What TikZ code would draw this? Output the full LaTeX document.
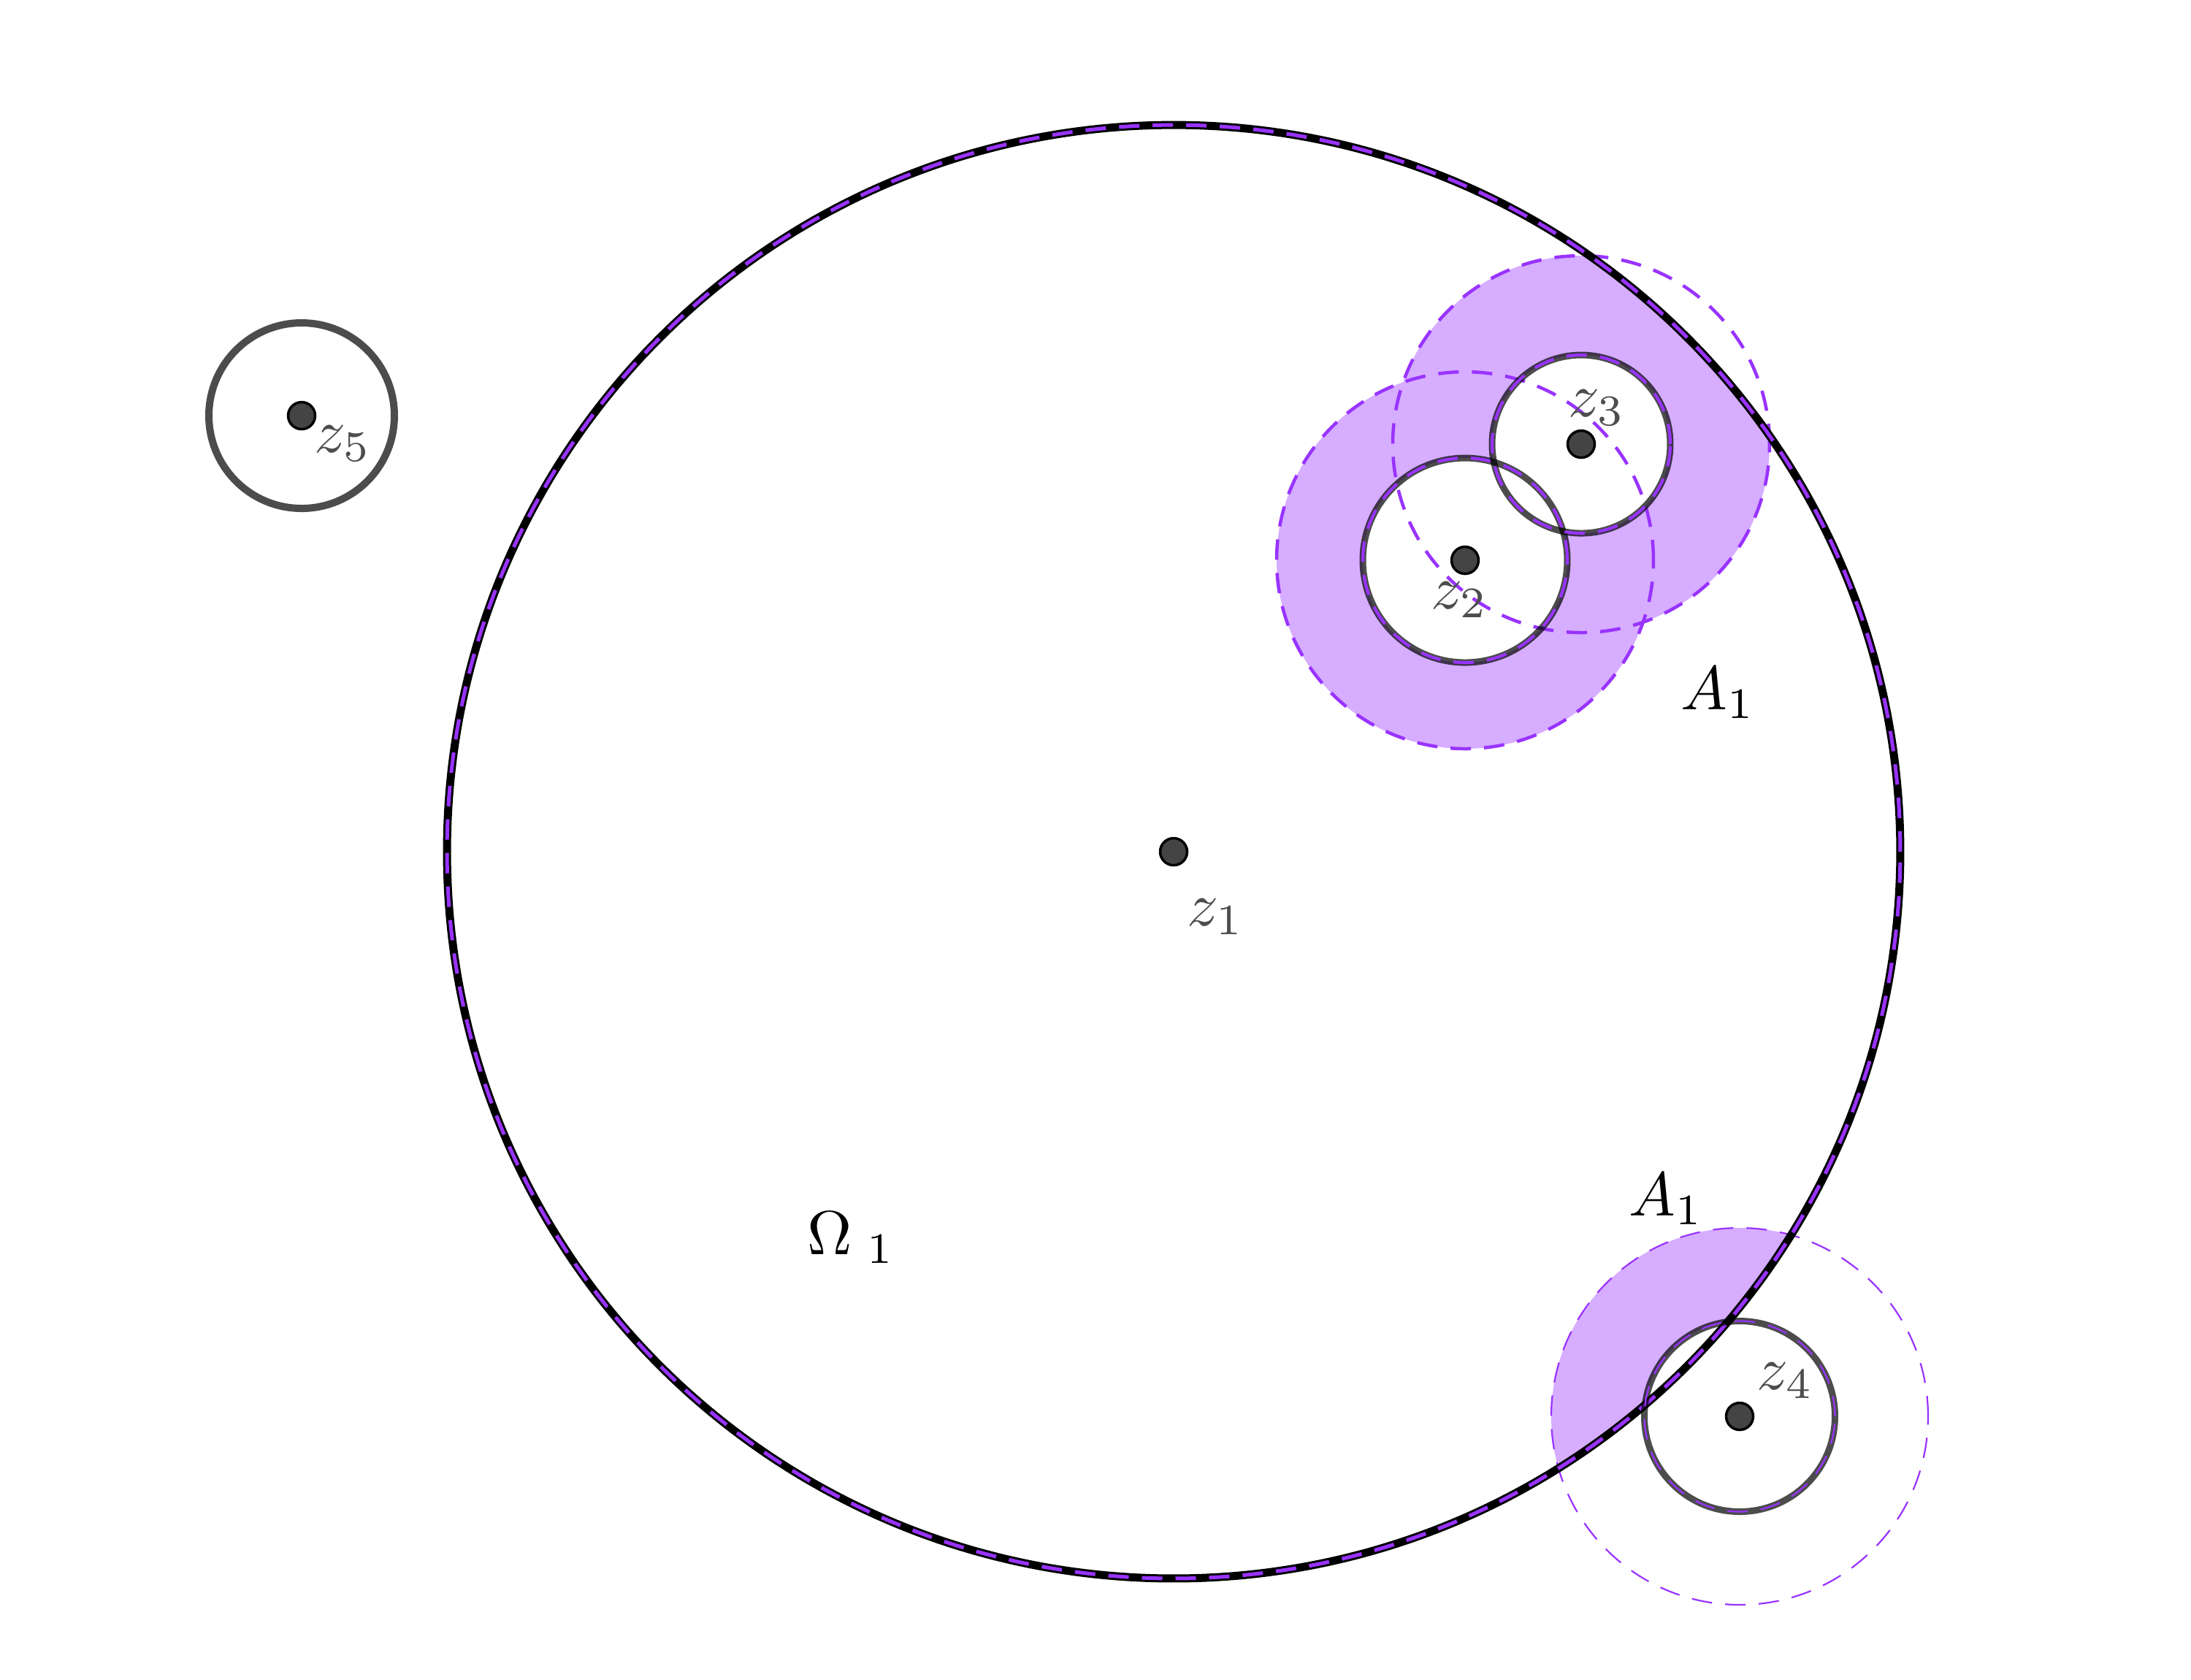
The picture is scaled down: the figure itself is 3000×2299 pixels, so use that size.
\documentclass[tikz,border=0pt]{standalone}
\definecolor{vio}{HTML}{9933FF}
\definecolor{viofill}{RGB}{214,173,255}
\definecolor{dotgrey}{HTML}{444444}
\definecolor{labgrey}{HTML}{4D4D4D}
\tikzset{
  zdot/.style={circle, fill=dotgrey, draw=black, line width=0.35pt, minimum size=3.7pt, inner sep=0pt},
  zlab/.style={anchor=base west, inner sep=0pt, scale=0.85, transform shape, text=labgrey},
  blab/.style={anchor=base west, inner sep=0pt, scale=0.85, transform shape, text=black},
  ring/.style={draw=black, draw opacity=0.7, line width=0.9pt},
  vdash/.style={draw=vio, line width=0.45pt, dash pattern=on 2.8pt off 1.8pt},
  vthin/.style={draw=vio, line width=0.22pt, dash pattern=on 2.8pt off 1.8pt}
}
\begin{document}
\begin{tikzpicture}[x=0.1pt,y=-0.1pt]
\useasboundingbox (0,0) rectangle (3000,2299);
\coordinate (c1) at (1607,1166);
\coordinate (c2) at (2006,767);
\coordinate (c3) at (2165,608);
\coordinate (c4) at (2382,1939);
\coordinate (c5) at (413,569);
% shaded regions
\begin{scope}
  \clip (c1) circle [radius=99.5pt];
  \fill[viofill] (c2) circle [radius=25.8pt] (c3) circle [radius=25.8pt];
  \fill[viofill] (c4) circle [radius=25.8pt];
  \fill[white] (c2) circle [radius=14pt] (c3) circle [radius=12.2pt] (c4) circle [radius=13.05pt];
\end{scope}
% dashed neighbourhoods
\draw[vdash] (c2) circle [radius=25.8pt];
\draw[vdash] (c3) circle [radius=25.8pt];
\draw[vthin] (c4) circle [radius=25.8pt];
% big circle
\draw[black, line width=1.1pt] (c1) circle [radius=99.5pt];
\draw[vdash, line width=0.5pt] (c1) circle [radius=99.5pt];
% rings
\draw[ring] (c2) circle [radius=14pt];
\draw[vdash, line width=0.4pt] (c2) circle [radius=14pt];
\draw[ring] (c3) circle [radius=12.2pt];
\draw[vdash, line width=0.4pt] (c3) circle [radius=12.2pt];
\draw[ring] (c4) circle [radius=13.05pt];
\draw[vthin] (c4) circle [radius=13.05pt];
\draw[ring, line width=1pt] (c5) circle [radius=12.7pt];
% points
\node[zdot] (z1) at (c1) {};
\node[zdot] (z2) at (c2) {};
\node[zdot] (z3) at (c3) {};
\node[zdot] (z4) at (c4) {};
\node[zdot] (z5) at (c5) {};
% labels
\node[zlab] (l1) at (1624,1267) {$z_1$};
\node[zlab] (l2) at (1958,833) {$z_2$};
\node[zlab] (l3) at (2146,570) {$z_3$};
\node[zlab] (l4) at (2404,1902) {$z_4$};
\node[zlab] (l5) at (429,619) {$z_5$};
\node[blab] (a1) at (2300,971) {$A_1$};
\node[blab] (a2) at (2229,1664) {$A_1$};
\node[blab] (om) at (1104,1717) {$\Omega_{\kern2.4pt 1}$};
\end{tikzpicture}
\end{document}
